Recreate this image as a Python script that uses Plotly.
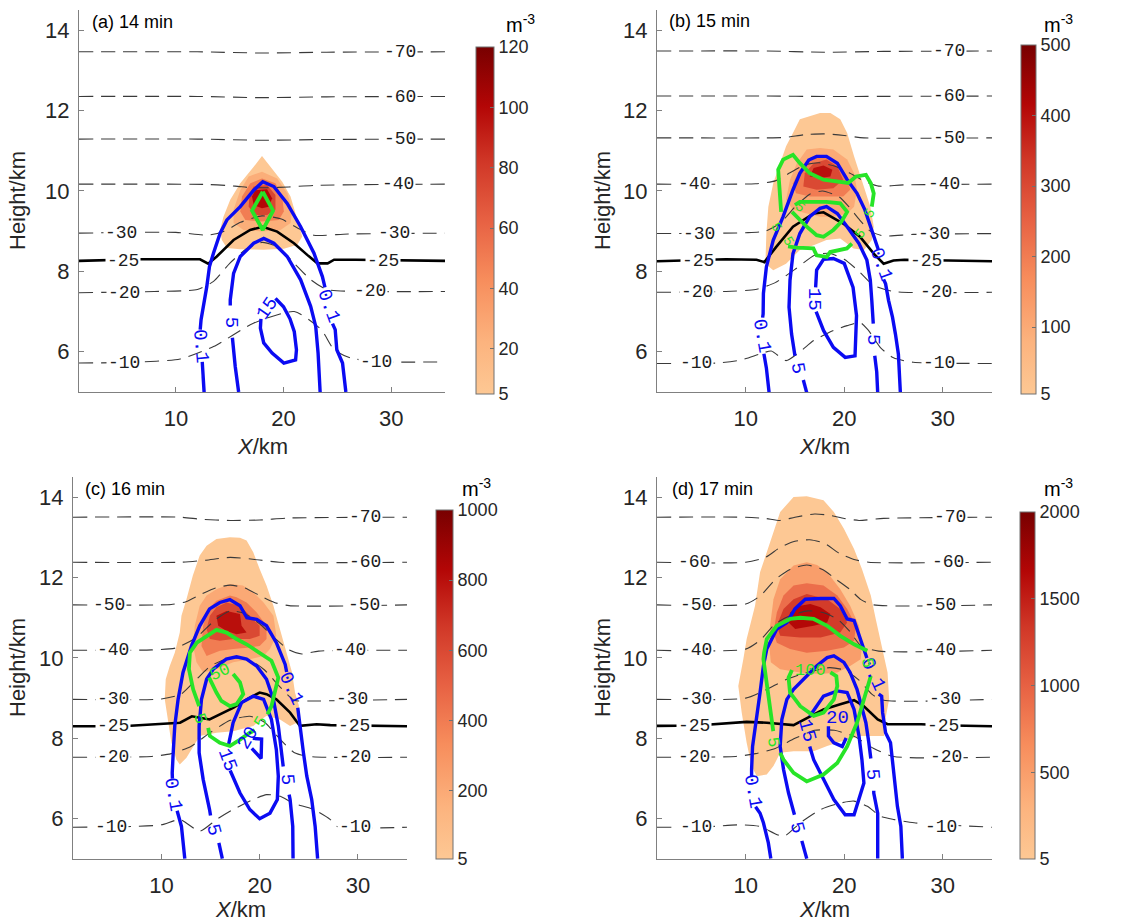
import plotly.graph_objects as go
from plotly.colors import sample_colorscale

W, H = 1130, 923

CSCALE = [[0.0, "#FDC894"], [0.15, "#FCB37E"], [0.33, "#F78D5C"], [0.5, "#E76143"],
          [0.67, "#D03727"], [0.83, "#B30606"], [1.0, "#780000"]]

TITLES = ["(a) 14 min", "(b) 15 min", "(c) 16 min", "(d) 17 min"]
CB_MAX = [120, 500, 1000, 2000]
CB_TICKS = [[5, 20, 40, 60, 80, 100, 120], [5, 100, 200, 300, 400, 500],
            [5, 200, 400, 600, 800, 1000], [5, 500, 1000, 1500, 2000]]
FILL_LEVELS = [[5, 25, 50, 75, 100], [5, 100, 200, 300, 400],
               [5, 200, 400, 600, 800], [5, 500, 900, 1300, 1650]]
X_TICKS = [10, 20, 30]
Y_TICKS = [6, 8, 10, 12, 14]

# ---------------- panel (a) ----------------
FILL_A = [
    [(18.0, 10.87), (18.79, 10.6), (19.88, 10.23), (20.65, 9.86), (21.12, 9.45), (21.59, 9.03), (21.74, 8.87),
     (21.28, 8.66), (20.03, 8.56), (18.16, 8.54), (15.98, 8.55), (14.74, 8.58), (14.27, 8.78), (14.11, 9.03),
     (14.42, 9.36), (15.05, 9.78), (15.98, 10.19), (17.23, 10.6)],
    [(16.76, 10.36), (18.0, 10.48), (19.41, 10.31), (20.35, 9.94), (20.81, 9.53), (20.65, 9.2), (19.72, 9.03),
     (18.0, 8.99), (16.29, 9.03), (15.36, 9.2), (15.36, 9.53), (15.98, 10.02)],
    [(16.92, 10.19), (18.0, 10.31), (19.25, 10.19), (19.88, 9.86), (20.03, 9.49), (19.56, 9.28), (18.0, 9.24),
     (16.45, 9.28), (15.98, 9.49), (16.14, 9.86)],
    [(17.23, 10.11), (18.47, 10.15), (19.25, 9.9), (19.25, 9.53), (18.47, 9.4), (17.38, 9.4), (16.76, 9.61),
     (16.85, 9.94)],
    [(17.38, 10.02), (18.47, 10.04), (18.94, 9.82), (18.63, 9.61), (18.0, 9.57), (17.23, 9.65), (17.07, 9.86)],
]
ISO_A = {
    -70: [(1, 13.46), (12, 13.46), (18, 13.43), (24, 13.45), (35, 13.46)],
    -60: [(1, 12.35), (12, 12.35), (18, 12.32), (24, 12.34), (35, 12.35)],
    -50: [(1, 11.29), (12, 11.29), (18, 11.26), (24, 11.28), (35, 11.29)],
    -40: [(1, 10.17), (13, 10.16), (15.5, 10.12), (17, 10.08), (18.5, 10.08), (20.5, 10.1), (23, 10.14), (35, 10.17)],
    -30: [(1, 8.95), (10, 8.97), (13, 8.9), (14.5, 9.0), (16, 9.22), (18, 9.38), (19.8, 9.3), (21.3, 9.08),
          (22.8, 8.9), (26, 8.93), (35, 8.95)],
    -20: [(1, 7.47), (8, 7.5), (12, 7.55), (13.5, 7.75), (15, 8.2), (16.5, 8.55), (18, 8.72), (19.5, 8.6),
          (21, 8.2), (22.5, 7.8), (24, 7.55), (27, 7.5), (35, 7.5)],
    -10: [(1, 5.72), (6, 5.74), (10.4, 5.82), (13.5, 6.13), (17.2, 6.71), (21, 7.0), (23.5, 6.55), (24.7, 6.05),
          (26.3, 5.84), (29, 5.75), (35, 5.75)],
}
ISO25_A = [(1, 8.26), (6.6, 8.3), (12.24, 8.3), (13.0, 8.19), (13.8, 8.37), (15.36, 8.78), (16.9, 9.03),
           (18.07, 9.11), (19.41, 8.99), (20.97, 8.7), (22.2, 8.41), (23.15, 8.2), (24.1, 8.2), (24.7, 8.29),
           (26.7, 8.29), (35, 8.26)]
ISO_LAB_A = [(30.8, 13.46, "-70"), (30.8, 12.34, "-60"), (30.8, 11.29, "-50"), (30.6, 10.17, "-40"),
             (4.9, 8.95, "-30"), (30.3, 8.95, "-30"), (5.1, 8.26, "-25"), (29.2, 8.26, "-25"),
             (5.2, 7.47, "-20"), (28.0, 7.5, "-20"), (5.2, 5.72, "-10"), (28.6, 5.75, "-10")]
BLUE_A = [
    [(12.62, 5.0), (12.45, 5.75)],
    [(12.26, 6.55), (12.34, 6.8), (12.87, 7.62), (13.12, 8.12), (13.49, 8.45), (14.11, 8.95), (14.74, 9.28),
     (15.98, 9.61), (17.23, 10.02), (18.07, 10.23), (19.10, 10.11), (20.34, 9.69), (21.59, 9.11), (22.83, 8.45),
     (23.61, 7.87), (23.85, 7.6)],
    [(24.55, 6.7), (24.80, 6.55), (24.95, 6.05), (25.48, 5.72), (25.79, 5.0)],
    [(15.83, 5.0), (15.51, 5.64), (15.25, 6.35)],
    [(15.05, 7.15), (15.05, 7.29), (15.36, 7.95), (15.98, 8.37), (17.23, 8.70), (18.16, 8.82), (19.10, 8.70),
     (20.34, 8.37), (21.59, 7.79), (22.52, 7.13), (22.99, 6.63), (23.21, 5.97), (23.40, 5.0)],
    [(19.25, 7.33), (20.0, 7.12), (20.6, 6.82), (21.0, 6.5), (21.2, 6.05), (21.12, 5.8), (20.03, 5.72),
     (18.94, 5.97), (18.16, 6.22), (17.85, 6.59), (17.9, 6.82)],
]
BLUE_LAB_A = [(12.3, 6.15, "0.1", 85), (24.2, 7.15, "0.1", 70), (15.12, 6.75, "5", 90), (18.55, 7.08, "15", -55)]
GREEN_A = [[(18.07, 9.98), (19.03, 9.51), (18.07, 9.03), (17.07, 9.51), (18.07, 9.98)]]
GREEN_LAB_A = []

# ---------------- panel (b) ----------------
FILL_B = [
    [(17.55, 11.94), (18.6, 11.94), (19.6, 11.78), (20.3, 11.44), (21.0, 10.86), (21.8, 10.28), (22.65, 9.61),
     (23.0, 9.11), (22.8, 8.78), (22.0, 8.53), (20.95, 8.57), (19.6, 8.82), (18.2, 8.78), (16.9, 8.65),
     (15.5, 8.53), (14.1, 8.19), (12.8, 8.03), (12.0, 8.19), (12.1, 8.94), (12.3, 9.61), (12.8, 10.19),
     (13.5, 10.69), (14.1, 11.11), (14.8, 11.44), (15.5, 11.78)],
    [(16.2, 11.03), (17.55, 11.07), (18.9, 11.03), (20.3, 10.78), (21.0, 10.44), (21.3, 10.03), (21.0, 9.61),
     (20.3, 9.44), (18.9, 9.36), (17.55, 9.36), (16.2, 9.44), (14.8, 9.53), (14.1, 9.78), (14.5, 10.28),
     (15.2, 10.69)],
    [(16.5, 10.78), (17.9, 10.86), (19.3, 10.69), (20.3, 10.36), (20.6, 10.03), (19.9, 9.86), (18.2, 9.86),
     (16.5, 9.86), (15.1, 9.94), (14.8, 10.19), (15.5, 10.53)],
    [(16.9, 10.69), (18.2, 10.78), (19.3, 10.61), (19.9, 10.28), (18.9, 10.07), (17.2, 10.03), (15.85, 10.11),
     (16.0, 10.44)],
    [(16.9, 10.57), (17.9, 10.63), (18.8, 10.53), (18.6, 10.36), (17.55, 10.32), (16.5, 10.36)],
]
ISO_B = {
    -70: [(1, 13.48), (12, 13.48), (18, 13.45), (24, 13.47), (35, 13.48)],
    -60: [(1, 12.36), (12, 12.36), (18, 12.35), (35, 12.36)],
    -50: [(1, 11.32), (12, 11.32), (14, 11.33), (16, 11.4), (18, 11.42), (20, 11.38), (22, 11.32), (35, 11.32)],
    -40: [(1, 10.17), (11, 10.18), (13, 10.25), (14.5, 10.45), (16, 10.65), (17.5, 10.7), (19, 10.62),
          (20.5, 10.45), (22, 10.25), (23.5, 10.12), (26, 10.15), (35, 10.17)],
    -30: [(1, 8.94), (10, 8.96), (12, 9.0), (13.5, 9.2), (15, 9.6), (16.5, 9.92), (17.8, 10.0), (19.5, 9.85),
          (20.5, 9.6), (21.6, 9.27), (22.65, 9.0), (24, 8.88), (27, 8.92), (35, 8.94)],
    -20: [(1, 7.48), (8, 7.5), (11, 7.55), (13, 7.72), (15, 8.05), (17, 8.4), (18.5, 8.45), (20, 8.3),
          (21.5, 8.0), (23, 7.65), (25, 7.5), (35, 7.48)],
    -10: [(1, 5.71), (7, 5.72), (9.6, 5.8), (11.4, 5.94), (12.6, 6.02), (14.1, 5.78), (15.5, 6.0), (16.9, 6.28),
          (18.9, 6.53), (20.3, 6.65), (21.6, 6.73), (22.4, 6.55), (23.7, 6.1), (25, 5.85), (27, 5.74), (35, 5.71)],
}
ISO25_B = [(1, 8.25), (5, 8.27), (8, 8.3), (11.1, 8.29), (11.9, 8.23), (13.1, 8.61), (14.8, 9.11), (16.9, 9.44),
           (17.9, 9.47), (19.9, 9.19), (21.6, 8.86), (23.0, 8.44), (24.0, 8.19), (25.0, 8.27), (26.1, 8.29),
           (35, 8.25)]
ISO_LAB_B = [(30.6, 13.48, "-70"), (30.6, 12.36, "-60"), (30.6, 11.32, "-50"), (4.8, 10.17, "-40"),
             (30.1, 10.17, "-40"), (5.3, 8.94, "-30"), (29.1, 8.94, "-30"), (5.2, 8.25, "-25"),
             (28.3, 8.25, "-25"), (5.1, 7.48, "-20"), (29.3, 7.48, "-20"), (5.0, 5.71, "-10"), (29.6, 5.71, "-10")]
BLUE_B = [
    [(12.38, 4.98), (12.1, 5.6), (11.85, 5.95)],
    [(11.72, 6.85), (11.77, 6.94), (11.8, 7.45), (12.1, 8.11), (12.8, 8.78), (13.8, 9.36), (14.8, 10.03),
     (15.5, 10.44), (16.4, 10.77), (17.2, 10.86), (18.2, 10.86), (19.3, 10.69), (20.3, 10.28), (21.3, 9.94),
     (22.1, 9.53), (22.8, 9.03), (23.3, 8.69), (23.45, 8.55)],
    [(24.0, 7.8), (24.2, 7.69), (24.5, 7.28), (24.9, 6.86), (25.2, 6.44), (25.5, 5.94), (25.7, 4.98)],
    [(16.2, 4.98), (15.85, 5.3)],
    [(15.0, 5.9), (14.66, 6.44), (14.4, 7.11), (14.5, 7.78), (14.8, 8.44), (15.5, 8.94), (16.5, 9.36),
     (17.55, 9.57), (18.2, 9.61), (19.3, 9.44), (20.3, 9.11), (21.5, 8.69), (22.3, 8.28), (22.65, 7.78),
     (22.8, 7.28), (22.95, 6.7)],
    [(23.1, 5.9), (23.3, 5.5), (23.4, 4.98)],
    [(17.1, 7.6), (17.2, 8.03), (17.9, 8.3), (18.9, 8.32), (20.0, 8.2), (20.9, 7.6), (21.25, 6.9), (21.1, 5.9),
     (20.1, 5.86), (18.9, 6.11), (17.9, 6.53), (17.4, 6.86), (17.15, 7.0)],
]
BLUE_LAB_B = [(11.65, 6.4, "0.1", 80), (23.7, 8.18, "0.1", 70), (15.25, 5.6, "5", 80), (23.0, 6.3, "5", 90),
              (17.0, 7.3, "15", 90)]
GREEN_B = [
    [(13.6, 9.48), (13.4, 10.1), (13.3, 10.53), (13.8, 10.78), (14.8, 10.9), (15.5, 10.69), (16.5, 10.44),
     (17.9, 10.28), (19.2, 10.23), (20.4, 10.2), (21.2, 10.36), (22.2, 10.4), (22.7, 10.19), (23.0, 9.94),
     (22.8, 9.61)],
    [(15.0, 9.65), (15.5, 9.73), (16.9, 9.73), (18.2, 9.73), (19.6, 9.69), (20.3, 9.48), (19.7, 9.23),
     (18.9, 9.03), (17.9, 8.86), (17.2, 8.9), (16.2, 9.11), (15.3, 9.32), (14.7, 9.48)],
    [(14.3, 8.62), (15.17, 8.59), (16.87, 8.57), (17.2, 8.4), (18.23, 8.36), (18.57, 8.48), (20.27, 8.57),
     (20.78, 8.69)],
]
GREEN_LAB_B = [(15.5, 9.6, "5", 40), (13.1, 9.1, "5", 60), (14.3, 8.75, "5", 60), (22.65, 9.44, "5", -60),
               (21.6, 8.94, "5", -50)]

# ---------------- panel (c) ----------------
FILL_C = [
    [(16.97, 13.0), (18.0, 12.99), (18.67, 12.92), (19.35, 12.63), (20.0, 12.21), (20.7, 11.8), (21.4, 11.3),
     (22.07, 10.72), (22.8, 10.13), (23.3, 9.64), (23.6, 9.14), (24.0, 8.81), (23.95, 8.64), (23.78, 8.39),
     (23.1, 8.31), (22.07, 8.47), (20.7, 8.56), (19.35, 8.31), (17.3, 8.18), (15.6, 8.14), (13.9, 8.06),
     (13.06, 7.72), (12.55, 7.52), (11.87, 7.35), (11.53, 7.47), (11.02, 7.89), (10.68, 8.39), (10.34, 8.97),
     (10.44, 9.47), (10.85, 9.8), (11.36, 10.13), (11.87, 10.63), (12.04, 11.05), (12.55, 11.46), (13.2, 12.05),
     (13.9, 12.55), (14.6, 12.79), (15.6, 12.96)],
    [(16.97, 11.84), (18.3, 11.8), (19.35, 11.63), (20.4, 11.38), (21.4, 11.05), (21.7, 10.55), (21.05, 10.22),
     (20.4, 10.05), (19.0, 9.97), (17.3, 9.89), (15.6, 9.72), (14.25, 9.64), (13.57, 9.89), (13.23, 10.3),
     (13.4, 10.8), (13.9, 11.3), (14.6, 11.55), (15.6, 11.71)],
    [(16.97, 11.55), (17.65, 11.51), (18.67, 11.38), (19.7, 11.13), (20.7, 10.8), (20.7, 10.47), (20.0, 10.3),
     (19.0, 10.26), (17.3, 10.22), (15.95, 10.18), (14.6, 10.05), (14.08, 10.3), (14.25, 10.8), (14.76, 11.22),
     (15.6, 11.42)],
    [(16.63, 11.38), (18.0, 11.3), (19.0, 11.05), (20.0, 10.8), (20.0, 10.55), (19.0, 10.47), (17.3, 10.47),
     (15.95, 10.43), (14.93, 10.47), (14.6, 10.72), (14.93, 11.05), (15.6, 11.26)],
    [(15.6, 11.05), (16.63, 11.17), (18.0, 11.09), (18.16, 10.8), (18.67, 10.63), (17.65, 10.59), (16.63, 10.67),
     (15.78, 10.8)],
]
ISO_C = {
    -70: [(1, 13.5), (12, 13.5), (14, 13.45), (17, 13.42), (20, 13.43), (23, 13.48), (35, 13.5)],
    -60: [(1, 12.38), (12, 12.38), (14.5, 12.43), (17, 12.5), (19.5, 12.45), (22, 12.38), (35, 12.38)],
    -50: [(1, 11.32), (11, 11.33), (12.5, 11.4), (14, 11.58), (15.5, 11.74), (17, 11.81), (18.5, 11.74),
          (20, 11.55), (21.5, 11.38), (23, 11.3), (35, 11.32)],
    -40: [(1, 10.19), (9, 10.2), (11.5, 10.25), (13.5, 10.5), (15.5, 10.95), (17, 11.17), (18.5, 11.1),
          (20, 10.85), (21.5, 10.5), (23, 10.2), (24.3, 10.1), (26, 10.17), (35, 10.19)],
    -30: [(1, 8.97), (10, 8.98), (12, 9.1), (13.5, 9.45), (15, 9.8), (17, 10.0), (19, 9.95), (20.5, 9.7),
          (22, 9.3), (23.5, 8.95), (25, 8.93), (35, 8.97)],
    -20: [(1, 7.53), (9, 7.55), (11, 7.62), (13, 7.8), (15, 8.15), (17, 8.45), (19, 8.55), (20.5, 8.4),
          (22, 8.0), (23.5, 7.65), (25, 7.55), (35, 7.53)],
    -10: [(1, 5.79), (6, 5.8), (10, 5.85), (11.9, 5.98), (13.9, 5.69), (15.6, 5.98), (17.3, 6.23), (19.35, 6.48),
          (20.7, 6.6), (22.1, 6.56), (23.4, 6.39), (25.5, 6.23), (27.2, 5.98), (27.9, 5.81), (35, 5.79)],
}
ISO25_C = [(1, 8.3), (6, 8.3), (11.9, 8.39), (13.1, 8.55), (14.9, 8.47), (15.95, 8.6), (17.3, 8.76),
           (18.7, 8.97), (20.0, 9.14), (20.7, 9.1), (21.7, 8.97), (23.1, 8.64), (24.1, 8.31), (25.8, 8.35),
           (27.2, 8.33), (35, 8.3)]
ISO_LAB_C = [(30.7, 13.5, "-70"), (30.7, 12.38, "-60"), (4.7, 11.32, "-50"), (30.6, 11.32, "-50"),
             (5.1, 10.19, "-40"), (29.2, 10.19, "-40"), (5.1, 8.97, "-30"), (29.4, 8.97, "-30"),
             (5.1, 8.3, "-25"), (29.6, 8.3, "-25"), (5.1, 7.53, "-20"), (29.7, 7.53, "-20"),
             (4.9, 5.79, "-10"), (29.7, 5.79, "-10")]
BLUE_C = [
    [(12.38, 5.01), (12.04, 5.81), (11.6, 6.2)],
    [(11.12, 7.0), (11.1, 7.14), (11.2, 7.64), (11.36, 8.31), (11.7, 8.97), (12.2, 9.64), (13.06, 10.3),
     (13.9, 10.8), (14.9, 11.22), (15.95, 11.38), (16.97, 11.45), (18.0, 11.3), (18.7, 11.0), (19.7, 10.96),
     (20.7, 10.8), (21.7, 10.38), (22.6, 9.84), (22.75, 9.65)],
    [(23.88, 8.76), (24.1, 8.31), (24.46, 7.64), (24.8, 7.06), (25.3, 6.48), (25.65, 5.81), (25.9, 5.01)],
    [(16.2, 5.01), (15.85, 5.4)],
    [(15.0, 6.08), (14.9, 6.23), (14.25, 6.98), (13.84, 7.64), (13.84, 8.31), (14.08, 8.97), (14.6, 9.47),
     (15.27, 9.72), (16.6, 9.97), (17.65, 10.03), (18.67, 9.97), (19.7, 9.8), (20.7, 9.47), (21.4, 8.97),
     (21.9, 8.31), (22.2, 7.64), (22.4, 7.3)],
    [(23.0, 6.6), (23.1, 6.48), (23.37, 5.81), (23.4, 5.01)],
    [(16.8, 7.8), (17.3, 8.39), (18.16, 8.89), (19.35, 9.05), (20.4, 8.97), (21.2, 8.47), (21.7, 7.72),
     (21.9, 7.06), (21.8, 6.48), (21.05, 6.14), (20.0, 6.0), (19.0, 6.23), (18.0, 6.64), (17.3, 7.06), (17.0, 7.2)],
    [(19.3, 8.0), (20.2, 7.98), (20.15, 7.5), (19.2, 7.75)],
]
BLUE_LAB_C = [(11.2, 6.6, "0.1", 80), (23.15, 9.25, "0.1", 65), (15.3, 5.73, "5", 75), (22.75, 6.98, "5", 85),
              (16.65, 7.45, "15", 70), (18.85, 8.0, "20", -60)]
GREEN_C = [
    [(13.84, 8.8), (13.23, 9.22), (12.8, 9.72), (12.9, 10.13), (13.6, 10.38), (14.6, 10.55), (15.6, 10.7),
     (16.63, 10.63), (17.65, 10.47), (18.67, 10.34), (19.7, 10.18), (20.7, 10.01), (21.2, 9.93), (21.9, 9.51),
     (21.56, 9.14), (21.2, 8.8), (20.8, 8.6)],
    [(19.5, 8.2), (19.0, 8.14), (18.0, 7.97), (16.97, 7.81), (15.95, 7.89), (14.93, 8.06), (14.76, 8.26)],
    [(17.3, 9.6), (18.0, 9.39), (18.33, 9.1), (17.65, 8.85), (16.97, 8.8), (16.1, 8.93), (15.6, 9.14),
     (15.1, 9.39), (14.86, 9.51)],
]
GREEN_LAB_C = [(20.1, 8.4, "5", -60), (13.9, 8.5, "5", 70), (15.95, 9.64, "50", -25)]

# ---------------- panel (d) ----------------
FILL_D = [
    [(14.86, 14.0), (16.2, 14.02), (17.9, 13.92), (18.95, 13.63), (19.97, 13.21), (21.0, 12.71), (21.8, 12.21),
     (22.7, 11.55), (23.2, 10.97), (23.7, 10.38), (24.4, 9.64), (24.56, 8.97), (24.05, 8.31), (24.05, 8.06),
     (21.67, 8.06), (20.3, 7.97), (18.27, 7.81), (16.9, 7.68), (14.86, 7.68), (13.5, 7.64), (12.82, 7.31),
     (12.14, 7.1), (11.12, 7.06), (10.6, 7.31), (10.1, 7.89), (9.6, 8.64), (9.25, 9.3), (9.76, 9.97),
     (10.1, 10.47), (10.95, 11.3), (11.46, 12.13), (12.48, 12.88), (13.5, 13.63)],
    [(16.2, 12.38), (17.25, 12.31), (18.27, 12.13), (19.6, 11.71), (20.6, 11.3), (21.5, 10.8), (21.8, 10.3),
     (21.67, 9.97), (20.6, 9.8), (19.3, 9.64), (17.6, 9.6), (15.54, 9.64), (13.5, 9.72), (12.55, 9.89),
     (12.4, 10.3), (12.48, 10.8), (12.82, 11.46), (13.5, 11.96), (14.86, 12.3)],
    [(16.2, 11.86), (17.9, 11.8), (19.3, 11.55), (20.3, 11.22), (21.2, 10.8), (21.0, 10.43), (19.97, 10.26),
     (18.27, 10.18), (16.2, 10.13), (14.5, 10.22), (13.16, 10.38), (12.82, 10.63), (13.16, 11.13),
     (13.84, 11.55), (14.86, 11.8)],
    [(16.2, 11.59), (18.27, 11.46), (19.6, 11.22), (20.3, 10.88), (19.6, 10.63), (17.6, 10.51), (15.54, 10.51),
     (13.5, 10.55), (13.16, 10.8), (13.84, 11.22), (14.86, 11.46)],
    [(15.54, 11.3), (16.56, 11.34), (17.6, 11.26), (18.6, 11.09), (18.27, 10.88), (16.9, 10.8), (15.03, 10.72),
     (14.35, 10.88), (14.5, 11.13)],
]
ISO_D = {
    -70: [(1, 13.5), (10, 13.5), (12, 13.47), (13.5, 13.42), (15, 13.5), (17, 13.58), (18.5, 13.55), (20, 13.47),
          (21.5, 13.42), (24, 13.47), (35, 13.5)],
    -60: [(1, 12.38), (10, 12.38), (12, 12.5), (13.5, 12.75), (15, 12.9), (16.5, 12.94), (18, 12.85),
          (19.5, 12.6), (21, 12.45), (22.5, 12.38), (35, 12.38)],
    -50: [(1, 11.32), (10, 11.34), (11.5, 11.55), (13, 11.95), (14.5, 12.2), (16.2, 12.31), (17.8, 12.2),
          (19.2, 11.95), (20.6, 11.7), (21.7, 11.45), (23, 11.32), (35, 11.32)],
    -40: [(1, 10.19), (10, 10.22), (11.5, 10.45), (13, 10.85), (14.5, 11.05), (16.3, 11.17), (18, 11.12),
          (19.4, 10.95), (20.6, 10.65), (21.7, 10.3), (23.5, 10.17), (35, 10.19)],
    -30: [(1, 8.97), (10, 9.0), (12, 9.2), (14, 9.45), (16, 9.62), (18.5, 9.76), (20, 9.7), (21.5, 9.45),
          (22.8, 9.1), (24, 8.95), (35, 8.97)],
    -20: [(1, 7.53), (9, 7.55), (11, 7.62), (13, 7.75), (15, 8.0), (17, 8.2), (19, 8.2), (21, 8.05), (23, 7.75),
          (25, 7.55), (35, 7.53)],
    -10: [(1, 5.79), (6, 5.8), (9.5, 5.85), (11.46, 5.81), (13.84, 5.56), (15.54, 5.9), (17.6, 6.23),
          (19.6, 6.39), (21.0, 6.44), (22.35, 6.31), (23.7, 6.06), (25.07, 5.98), (27.1, 5.9), (35, 5.79)],
}
ISO25_D = [(1, 8.31), (5, 8.32), (10.1, 8.41), (12.14, 8.39), (14.86, 8.33), (16.2, 8.51), (17.9, 8.72),
           (19.6, 8.85), (21.0, 8.95), (22.0, 8.8), (23.4, 8.47), (24.4, 8.35), (27.8, 8.35), (31, 8.32), (35, 8.3)]
ISO_LAB_D = [(30.7, 13.5, "-70"), (4.8, 12.38, "-60"), (30.5, 12.38, "-60"), (5.0, 11.32, "-50"),
             (29.7, 11.32, "-50"), (5.0, 10.19, "-40"), (29.7, 10.19, "-40"), (5.0, 8.97, "-30"),
             (30.2, 8.97, "-30"), (4.8, 8.3, "-25"), (30.0, 8.3, "-25"), (4.8, 7.53, "-20"),
             (30.3, 7.53, "-20"), (5.0, 5.79, "-10"), (29.8, 5.79, "-10")]
BLUE_D = [
    [(12.55, 5.01), (12.3, 5.4), (11.8, 5.9), (11.46, 6.14), (11.0, 6.3)],
    [(10.6, 7.05), (10.6, 7.23), (10.7, 7.8), (11.1, 8.47), (11.46, 9.14), (11.8, 9.8), (12.14, 10.22),
     (13.16, 10.72), (14.18, 10.88), (15.0, 11.22), (16.05, 11.46), (17.6, 11.48), (18.95, 11.48), (19.6, 11.3),
     (20.3, 10.97), (21.0, 10.93), (21.5, 10.55), (22.0, 10.22), (22.3, 10.0)],
    [(23.5, 9.1), (23.8, 9.05), (23.9, 8.64), (24.2, 8.14), (24.7, 7.89), (25.07, 7.14), (25.4, 6.31),
     (25.75, 5.81), (25.9, 5.01)],
    [(16.2, 5.01), (15.7, 5.45)],
    [(14.95, 6.1), (14.35, 6.64), (13.84, 7.23), (13.5, 7.8), (13.67, 8.47), (14.18, 8.97), (14.86, 9.22),
     (15.9, 9.47), (17.2, 9.8), (18.27, 10.01), (18.95, 10.05), (19.97, 9.89), (20.6, 9.64), (21.3, 9.22),
     (21.8, 8.8), (22.2, 8.39), (22.5, 7.89), (22.7, 7.5)],
    [(23.0, 6.7), (23.0, 6.64), (23.4, 6.14), (23.4, 5.01)],
    [(16.5, 8.55), (17.9, 9.05), (19.3, 9.18), (20.3, 9.14), (21.0, 8.72), (21.5, 8.06), (21.8, 7.47),
     (22.0, 6.89), (21.0, 6.1), (20.1, 6.1), (18.95, 6.48), (17.9, 6.98), (16.9, 7.47), (16.5, 7.8)],
    [(18.4, 8.3), (18.4, 8.06), (18.95, 7.89), (19.8, 7.8), (20.2, 8.01)],
]
BLUE_LAB_D = [(10.7, 6.69, "0.1", 80), (22.9, 9.6, "0.1", 65), (15.2, 5.77, "5", 75), (22.9, 7.1, "5", 85),
              (16.2, 8.18, "15", 75), (19.35, 8.5, "20", 0)]
GREEN_D = [
    [(12.8, 8.18), (12.48, 8.8), (12.14, 9.3), (11.8, 9.97), (11.87, 10.13), (12.14, 10.47), (13.16, 10.8),
     (14.5, 10.97), (15.54, 11.0), (16.9, 10.97), (18.27, 10.8), (19.6, 10.55), (21.0, 10.34), (22.35, 10.18)],
    [(22.7, 9.55), (22.0, 8.97), (21.3, 8.39), (20.3, 7.8), (19.3, 7.39), (17.9, 7.1), (16.2, 6.93),
     (14.86, 7.14), (13.84, 7.47), (13.5, 7.64)],
    [(14.7, 9.7), (14.35, 9.51), (14.5, 9.14), (15.54, 8.8), (16.9, 8.56), (17.9, 8.64), (18.95, 8.97),
     (19.3, 9.3), (19.2, 9.55), (18.6, 9.64)],
]
GREEN_LAB_D = [(22.3, 9.88, "5", 80), (12.8, 7.9, "5", 80), (16.6, 9.68, "100", 0)]

# ---------------- layout geometry (pixels) ----------------
PANEL_BOX = [(79, 445, 10, 392), (657, 992, 10, 392), (73, 407, 477, 859), (657, 992, 477, 859)]
CB_BOX = [(476, 494, 47, 394), (1021, 1036, 45, 394), (436, 453, 510, 859), (1020, 1035, 512, 859)]
TITLE_POS = [(90, 22), (667, 21), (83, 489), (670, 489)]
UNIT_POS = [(520, 23), (1058, 23), (476, 487), (1058, 487)]
YTITLE_X = [18, 603, 17, 602]

PANELS = [
    (FILL_A, ISO_A, ISO25_A, ISO_LAB_A, BLUE_A, BLUE_LAB_A, GREEN_A, GREEN_LAB_A),
    (FILL_B, ISO_B, ISO25_B, ISO_LAB_B, BLUE_B, BLUE_LAB_B, GREEN_B, GREEN_LAB_B),
    (FILL_C, ISO_C, ISO25_C, ISO_LAB_C, BLUE_C, BLUE_LAB_C, GREEN_C, GREEN_LAB_C),
    (FILL_D, ISO_D, ISO25_D, ISO_LAB_D, BLUE_D, BLUE_LAB_D, GREEN_D, GREEN_LAB_D),
]

SANS = "Liberation Sans, Arial, sans-serif"
MONO = "Liberation Mono, Courier New, monospace"
TXT = "#262626"
AXC = "#808080"
BLUE = "#0B0BF2"
GREEN = "#27E427"


def segs_xy(segs):
    xs, ys = [], []
    for s in segs:
        for (x, y) in s:
            xs.append(x)
            ys.append(y)
        xs.append(None)
        ys.append(None)
    return xs, ys


fig = go.Figure()
annotations = []
layout = dict(width=W, height=H, margin=dict(l=0, r=0, t=0, b=0), paper_bgcolor="white",
              plot_bgcolor="rgba(0,0,0,0)", showlegend=False)

for i, (fills, iso, iso25, isolab, blue, bluelab, green, greenlab) in enumerate(PANELS):
    sfx = "" if i == 0 else str(i + 1)
    xr, yr = "x" + sfx, "y" + sfx
    ca = "coloraxis" + sfx
    l, r, t, b = PANEL_BOX[i]
    layout["xaxis" + sfx] = dict(domain=[l / W, r / W], range=[1, 35], anchor=yr, tickvals=X_TICKS,
                                 ticks="inside", ticklen=5, tickcolor=AXC, showline=True, linecolor=AXC,
                                 linewidth=1, showgrid=False, zeroline=False, ticklabelstandoff=7,
                                 tickfont=dict(family=SANS, size=22, color=TXT))
    layout["yaxis" + sfx] = dict(domain=[1 - b / H, 1 - t / H], range=[5, 14.5], anchor=xr, tickvals=Y_TICKS,
                                 ticks="inside", ticklen=5, tickcolor=AXC, showline=True, linecolor=AXC,
                                 linewidth=1, showgrid=False, zeroline=False, ticklabelstandoff=4,
                                 tickfont=dict(family=SANS, size=22, color=TXT))
    cl, cr, ct, cb = CB_BOX[i]
    layout[ca] = dict(colorscale=CSCALE, cmin=5, cmax=CB_MAX[i],
                      colorbar=dict(x=cl / W, xanchor="left", xpad=0, y=1 - (ct + cb) / 2 / H,
                                    yanchor="middle", ypad=0, len=cb - ct, lenmode="pixels",
                                    thickness=cr - cl, thicknessmode="pixels", outlinewidth=1,
                                    outlinecolor="#707070", tickvals=CB_TICKS[i], ticks="inside",
                                    ticklen=4, tickcolor="#707070",
                                    tickfont=dict(family=SANS, size=18, color=TXT)))

    # filled bands
    for lev, poly in zip(FILL_LEVELS[i], fills):
        col = sample_colorscale(CSCALE, [(lev - 5) / (CB_MAX[i] - 5)])[0]
        fig.add_trace(go.Scatter(x=[p[0] for p in poly], y=[p[1] for p in poly], mode="lines",
                                 fill="toself", fillcolor=col, line=dict(width=0, color=col),
                                 xaxis=xr, yaxis=yr, hoverinfo="skip"))
    # dashed isotherms
    for lev, pts in iso.items():
        fig.add_trace(go.Scatter(x=[p[0] for p in pts], y=[p[1] for p in pts], mode="lines",
                                 line=dict(color="#3a3a3a", width=1.1, dash="14px,8px", shape="spline",
                                           smoothing=0.6),
                                 xaxis=xr, yaxis=yr, hoverinfo="skip"))
    # -25 solid line
    fig.add_trace(go.Scatter(x=[p[0] for p in iso25], y=[p[1] for p in iso25], mode="lines",
                             line=dict(color="black", width=2.6), xaxis=xr, yaxis=yr, hoverinfo="skip"))
    # blue contours
    bx, by = segs_xy(blue)
    fig.add_trace(go.Scatter(x=bx, y=by, mode="lines", line=dict(color=BLUE, width=3.4),
                             xaxis=xr, yaxis=yr, hoverinfo="skip", connectgaps=False))
    # green contours
    gx, gy = segs_xy(green)
    fig.add_trace(go.Scatter(x=gx, y=gy, mode="lines", line=dict(color=GREEN, width=3.8),
                             xaxis=xr, yaxis=yr, hoverinfo="skip", connectgaps=False))
    # colorbar holder
    fig.add_trace(go.Scatter(x=[18, 18], y=[5.0, 5.0], mode="markers",
                             marker=dict(color=[5, CB_MAX[i]], coloraxis=ca, opacity=0, size=1),
                             xaxis=xr, yaxis=yr, hoverinfo="skip"))

    for (x, y, txt) in isolab:
        annotations.append(dict(x=x, y=y, xref=xr, yref=yr, text=txt, showarrow=False,
                                font=dict(family=MONO, size=18, color="#202020"),
                                bgcolor="white", borderpad=1))
    for (x, y, txt, ang) in bluelab:
        annotations.append(dict(x=x, y=y, xref=xr, yref=yr, text=txt, showarrow=False, textangle=ang,
                                font=dict(family=MONO, size=19, color=BLUE)))
    for (x, y, txt, ang) in greenlab:
        sz = 14 if i == 1 else 17
        annotations.append(dict(x=x, y=y, xref=xr, yref=yr, text=txt, showarrow=False, textangle=ang,
                                font=dict(family=MONO, size=sz, color=GREEN)))

    tx, ty = TITLE_POS[i]
    annotations.append(dict(x=tx / W, y=1 - ty / H, xref="paper", yref="paper", text=TITLES[i],
                            showarrow=False, xanchor="left", yanchor="middle",
                            font=dict(family=SANS, size=18, color="black")))
    ux, uy = UNIT_POS[i]
    annotations.append(dict(x=ux / W, y=1 - uy / H, xref="paper", yref="paper", text="m<sup>-3</sup>",
                            showarrow=False, xanchor="center", yanchor="middle",
                            font=dict(family=SANS, size=20, color="black")))
    annotations.append(dict(x=YTITLE_X[i] / W, y=1 - (t + b) / 2 / H, xref="paper", yref="paper",
                            text="Height/km", textangle=-90, showarrow=False, xanchor="center",
                            yanchor="middle", font=dict(family=SANS, size=22, color=TXT)))
    if i < 2:
        annotations.append(dict(x=(l + r) / 2 / W, y=1 - 447 / H, xref="paper", yref="paper",
                                text="<i>X</i>/km", showarrow=False, xanchor="center", yanchor="middle",
                                font=dict(family=SANS, size=22, color=TXT)))
    else:
        annotations.append(dict(x=(l + r) / 2 / W, y=0, xref="paper", yref="paper",
                                text="<i>X</i>/km", showarrow=False, xanchor="center", yanchor="bottom",
                                borderpad=0, font=dict(family=SANS, size=22, color=TXT)))

layout["annotations"] = annotations
fig.update_layout(**layout)
fig.write_html("out.html")
